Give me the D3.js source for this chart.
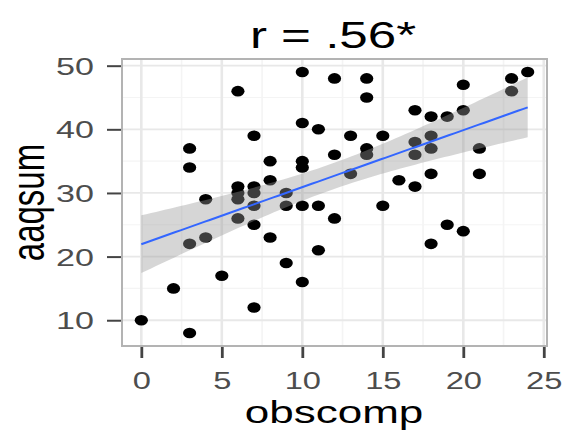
<!DOCTYPE html>
<html>
<head>
<meta charset="utf-8">
<script src="https://cdn.jsdelivr.net/npm/d3@7"></script>
<style>
  body { margin: 0; background: #fff; }
  svg { display: block; font-family: "Liberation Sans", Arial, Helvetica, sans-serif; }
</style>
</head>
<body>
<svg id="chart" width="566" height="430"></svg>
<script>
// Observations: obscomp (x) against aaqsum (y)
const obscomp = [0, 2, 3, 3, 3, 3, 4, 4, 5, 6, 6, 6, 6, 6, 7, 7, 7, 7, 7, 7,
  8, 8, 8, 9, 9, 9, 10, 10, 10, 10, 10, 10, 11, 11, 11, 12, 12, 12, 13, 13,
  14, 14, 14, 14, 15, 15, 16, 17, 17, 17, 17, 18, 18, 18, 18, 18, 19, 19,
  20, 20, 20, 21, 21, 23, 23, 24];
const aaqsum = [10, 15, 8, 22, 34, 37, 23, 29, 17, 46, 31, 30, 29, 26, 39, 31, 30, 28, 25, 12,
  35, 32, 23, 30, 28, 19, 49, 41, 35, 34, 28, 16, 40, 28, 21, 48, 36, 26, 39, 33,
  48, 45, 37, 36, 39, 28, 32, 43, 38, 36, 31, 42, 39, 37, 33, 22, 42, 25,
  47, 43, 24, 37, 33, 48, 46, 49];

const xTicks = [0, 5, 10, 15, 20, 25];
const yTicks = [10, 20, 30, 40, 50];
const xMinor = [2.5, 7.5, 12.5, 17.5, 22.5];
const yMinor = [15, 25, 35, 45];
const titleText = "r = .56*";
const xLabel = "obscomp";
const yLabel = "aaqsum";

// Text in this figure is drawn wide; stretch glyphs horizontally.
const SX = 1.42;

const svg = d3.select("#chart");
const panel = { left: 122, right: 547, top: 59, bottom: 346 };

const pad = e => { const d = (e[1] - e[0]) * 0.05; return [e[0] - d, e[1] + d]; };
const xExt = d3.extent(obscomp), yExt = d3.extent(aaqsum);
const x = d3.scaleLinear().domain(pad(xExt)).range([panel.left, panel.right]);
const y = d3.scaleLinear().domain(pad(yExt)).range([panel.bottom, panel.top]);

const data = obscomp.map((v, i) => ({ x: v, y: aaqsum[i] }));

// Panel background and grid
svg.append("rect")
  .attr("x", panel.left).attr("y", panel.top)
  .attr("width", panel.right - panel.left).attr("height", panel.bottom - panel.top)
  .attr("fill", "#fff");

const grid = svg.append("g");
grid.selectAll(".vmin").data(xMinor).join("line")
  .attr("x1", d => x(d)).attr("x2", d => x(d))
  .attr("y1", panel.top).attr("y2", panel.bottom)
  .attr("stroke", "#f4f4f4").attr("stroke-width", 1.6);
grid.selectAll(".hmin").data(yMinor).join("line")
  .attr("y1", d => y(d)).attr("y2", d => y(d))
  .attr("x1", panel.left).attr("x2", panel.right)
  .attr("stroke", "#f4f4f4").attr("stroke-width", 1.1);
grid.selectAll(".vmaj").data(xTicks).join("line")
  .attr("x1", d => x(d)).attr("x2", d => x(d))
  .attr("y1", panel.top).attr("y2", panel.bottom)
  .attr("stroke", "#e8e8e8").attr("stroke-width", 2.6);
grid.selectAll(".hmaj").data(yTicks).join("line")
  .attr("y1", d => y(d)).attr("y2", d => y(d))
  .attr("x1", panel.left).attr("x2", panel.right)
  .attr("stroke", "#e8e8e8").attr("stroke-width", 1.8);

// Points
svg.append("g").selectAll("ellipse").data(data).join("ellipse")
  .attr("cx", d => x(d.x)).attr("cy", d => y(d.y))
  .attr("rx", 6.6).attr("ry", 5.3)
  .attr("fill", "#000");

// Linear fit with 95% confidence band
const n = data.length;
const mx = d3.mean(obscomp), my = d3.mean(aaqsum);
const sxx = d3.sum(obscomp, v => (v - mx) ** 2);
const sxy = d3.sum(data, d => (d.x - mx) * (d.y - my));
const slope = sxy / sxx, intercept = my - slope * mx;
const sse = d3.sum(data, d => (d.y - (intercept + slope * d.x)) ** 2);
const sigma = Math.sqrt(sse / (n - 2));
const tCrit = 1.998; // t quantile, 0.975, df = 64

const fit = d3.range(80).map(i => {
  const xv = xExt[0] + (xExt[1] - xExt[0]) * i / 79;
  const yh = intercept + slope * xv;
  const se = sigma * Math.sqrt(1 / n + (xv - mx) ** 2 / sxx);
  return { x: xv, y: yh, lo: yh - tCrit * se, hi: yh + tCrit * se };
});

svg.append("path").datum(fit)
  .attr("d", d3.area().x(d => x(d.x)).y0(d => y(d.lo)).y1(d => y(d.hi)))
  .attr("fill", "#999999").attr("fill-opacity", 0.4);

svg.append("path").datum(fit)
  .attr("d", d3.line().x(d => x(d.x)).y(d => y(d.y)))
  .attr("fill", "none").attr("stroke", "#3366FF").attr("stroke-width", 2);

// Panel border
svg.append("rect")
  .attr("x", panel.left).attr("y", panel.top)
  .attr("width", panel.right - panel.left).attr("height", panel.bottom - panel.top)
  .attr("fill", "none").attr("stroke", "#b3b3b3").attr("stroke-width", 2);

// Axes
const gx = svg.append("g")
  .attr("transform", `translate(0,${panel.bottom + 1})`)
  .call(d3.axisBottom(x).tickValues(xTicks).tickSize(11).tickFormat(d3.format("d")));
gx.select(".domain").remove();
gx.selectAll(".tick line").attr("stroke", "#444").attr("stroke-width", 2.8);
gx.selectAll(".tick text")
  .attr("y", 42).attr("dy", null)
  .attr("transform", `scale(${SX},1)`)
  .attr("font-size", 23).attr("fill", "#4d4d4d");

const gy = svg.append("g")
  .attr("transform", `translate(${panel.left - 1},0)`)
  .call(d3.axisLeft(y).tickValues(yTicks).tickSize(14).tickFormat(d3.format("d")));
gy.select(".domain").remove();
gy.selectAll(".tick line").attr("stroke", "#444").attr("stroke-width", 2);
gy.selectAll(".tick text")
  .attr("x", 0).attr("dy", "0.36em")
  .attr("transform", `translate(-27,0) scale(${SX},1)`)
  .attr("text-anchor", "end")
  .attr("font-size", 24).attr("fill", "#4d4d4d");

// Titles
svg.append("text")
  .attr("transform", `translate(333,48) scale(${SX},1)`)
  .attr("text-anchor", "middle").attr("font-size", 36).attr("fill", "#000")
  .text(titleText);

svg.append("text")
  .attr("transform", `translate(334,423) scale(${SX},1)`)
  .attr("text-anchor", "middle").attr("font-size", 31).attr("fill", "#000")
  .text(xLabel);

svg.append("text")
  .attr("transform", `translate(44,${(panel.top + panel.bottom) / 2}) scale(${SX},1) rotate(-90)`)
  .attr("text-anchor", "middle").attr("font-size", 33).attr("fill", "#000")
  .text(yLabel);
</script>
</body>
</html>
